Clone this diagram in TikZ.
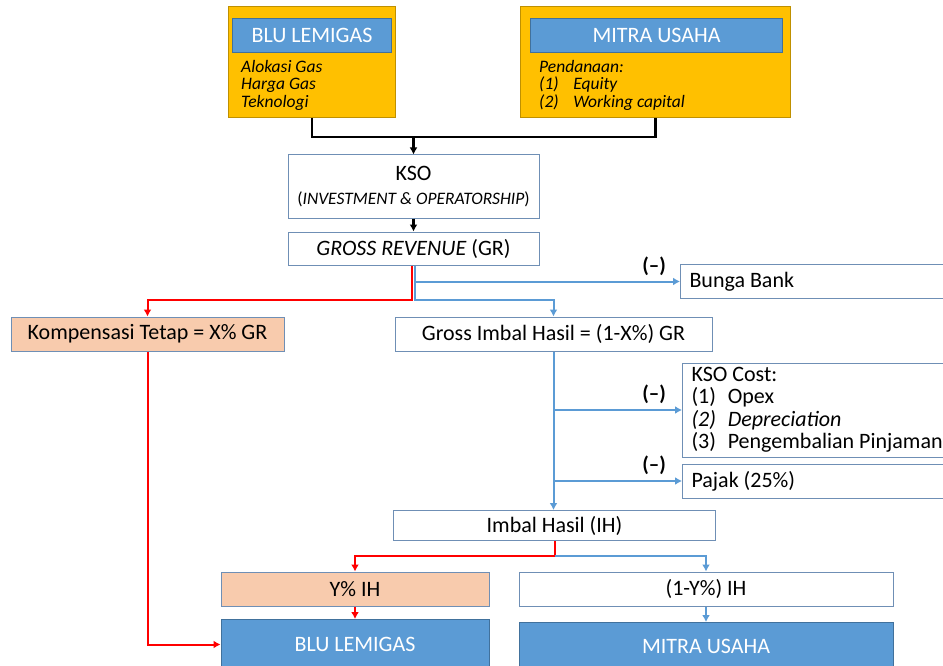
\documentclass[tikz,border=0pt]{standalone}
\usepackage{fontspec}
\setmainfont{Carlito}
\usetikzlibrary{arrows.meta,positioning,calc}
\definecolor{gold}{HTML}{FFC000}
\definecolor{goldline}{HTML}{BF9000}
\definecolor{steel}{HTML}{5B9BD5}
\definecolor{steelline}{HTML}{41719C}
\definecolor{peach}{HTML}{F8CBAD}
\definecolor{frame}{HTML}{6F8FB5}
\tikzset{
  every picture/.style={x=1pt,y=1pt},
  plain/.style={draw=frame,line width=1pt,fill=white,inner sep=0pt,minimum height=34,font=\fontsize{22}{26}\selectfont},
  tint/.style={plain,fill=peach},
  head/.style={plain,draw=steelline,fill=steel,text=white,font=\fontsize{22}{26}\selectfont},
  goldbox/.style={draw=goldline,line width=1pt,fill=gold,inner sep=0pt,anchor=north west},
  notes/.style={anchor=north west,align=flush left,inner sep=0pt,font=\fontsize{17.5}{17.5}\selectfont\itshape},
  sidebox/.style={plain,anchor=west,text width=290,align=flush left,inner xsep=9},
  minus/.style={font=\fontsize{21}{24}\selectfont\bfseries,inner sep=0pt,anchor=south east},
  blackarrow/.style={line width=2.4pt,black,-{Latex[length=7,width=8]}},
  blackline/.style={line width=2.4pt,black},
  bluearrow/.style={line width=2pt,steel,-{Latex[length=7,width=8]}},
  redarrow/.style={line width=2pt,red,-{Latex[length=7,width=8]}}
}
\begin{document}
\begin{tikzpicture}
    \clip (0,0) rectangle (943,-666);
    \node [goldbox,minimum width=167,minimum height=111] (bluTop) at (228,-6) {};
    \node [head,anchor=north west,minimum width=159] (bluHead) at (232,-18) {BLU LEMIGAS};
    \node [notes] (bluNotes) at (241,-60) {Alokasi Gas\\Harga Gas\\Teknologi};
    \node [goldbox,minimum width=270,minimum height=111] (mitraTop) at (520,-6) {};
    \node [head,anchor=north west,minimum width=252] (mitraHead) at (530,-18) {MITRA USAHA};
    \node [notes] (mitraNotes) at (539,-60) {Pendanaan:\\\makebox[1.95em][l]{(1)}Equity\\\makebox[1.95em][l]{(2)}Working capital};
    \node [plain,minimum width=251,minimum height=63,align=center] (kso) at (413.5,-186.5) {KSO\\[-2pt]{\fontsize{17.5}{20}\selectfont(\textit{INVESTMENT \& OPERATORSHIP})}};
    \node [plain,minimum width=251,minimum height=33] (gr) at (413.5,-248.5) {\textit{GROSS REVENUE} (GR)};
    \node [sidebox] (bunga) at (680,-281.5) {Bunga Bank};
    \node [tint,minimum width=273] (komp) at (147.5,-334) {Kompensasi Tetap = X\% GR};
    \node [plain,minimum width=317] (gih) at (553.5,-334) {Gross Imbal Hasil = (1-X\%) GR};
    \node [sidebox,minimum height=94,font=\fontsize{22}{22.5}\selectfont] (cost) at (682,-410) {KSO Cost:\\\makebox[1.65em][l]{(1)}Opex\\\textit{\makebox[1.65em][l]{(2)}Depreciation}\\\makebox[1.65em][l]{(3)}Pengembalian Pinjaman};
    \node [sidebox] (pajak) at (682,-481) {Pajak (25\%)};
    \node [plain,minimum width=322,minimum height=30] (ih) at (554.5,-525.5) {Imbal Hasil (IH)};
    \node [tint,minimum width=268] (yih) at (355,-589) {Y\% IH};
    \node [plain,minimum width=374] (rest) at (706,-589) {(1-Y\%) IH};
    \node [head,anchor=north,minimum width=268,minimum height=50] (bluBot) at (355,-619) {BLU LEMIGAS};
    \node [head,anchor=north,minimum width=374,minimum height=48] (mitraBot) at (706,-622) {MITRA USAHA};
    \node [minus] (minusBank) at ([xshift=-14,yshift=6]bunga.west) {(--)};
    \node [minus] (minusCost) at ([xshift=-16,yshift=6]cost.west) {(--)};
    \node [minus] (minusTax) at ([xshift=-16,yshift=6]pajak.west) {(--)};
    \coordinate (merge) at ($(bluTop.south)+(0,-19)$);
    \draw [blackline] (bluTop.south) -- (merge) -| (mitraTop.south);
    \draw [blackarrow] (kso.north |- merge) -- (kso.north);
    \draw [blackarrow] (kso.south) -- (gr.north);
    \draw [redarrow] ([xshift=-1.5]gr.south) -- ++(0,-34.5) -| (komp.north);
    \draw [bluearrow] ([xshift=1]gr.south) |- (bunga.west);
    \draw [bluearrow] ([xshift=1]gr.south) -- ++(0,-34.5) -| (gih.north);
    \draw [bluearrow] (gih.south) -- (ih.north -| gih.south);
    \draw [bluearrow] (gih.south |- cost.west) -- (cost.west);
    \draw [bluearrow] (gih.south |- pajak.west) -- (pajak.west);
    \draw [redarrow] (ih.south) -- ++(0,-15) -| (yih.north);
    \draw [bluearrow] ($(ih.south)+(0,-15)$) -| (rest.north);
    \draw [redarrow] (yih.south) -- (bluBot.north);
    \draw [bluearrow] (rest.south) -- (mitraBot.north);
    \draw [redarrow] (komp.south) |- (bluBot.west);
\end{tikzpicture}
\end{document}
